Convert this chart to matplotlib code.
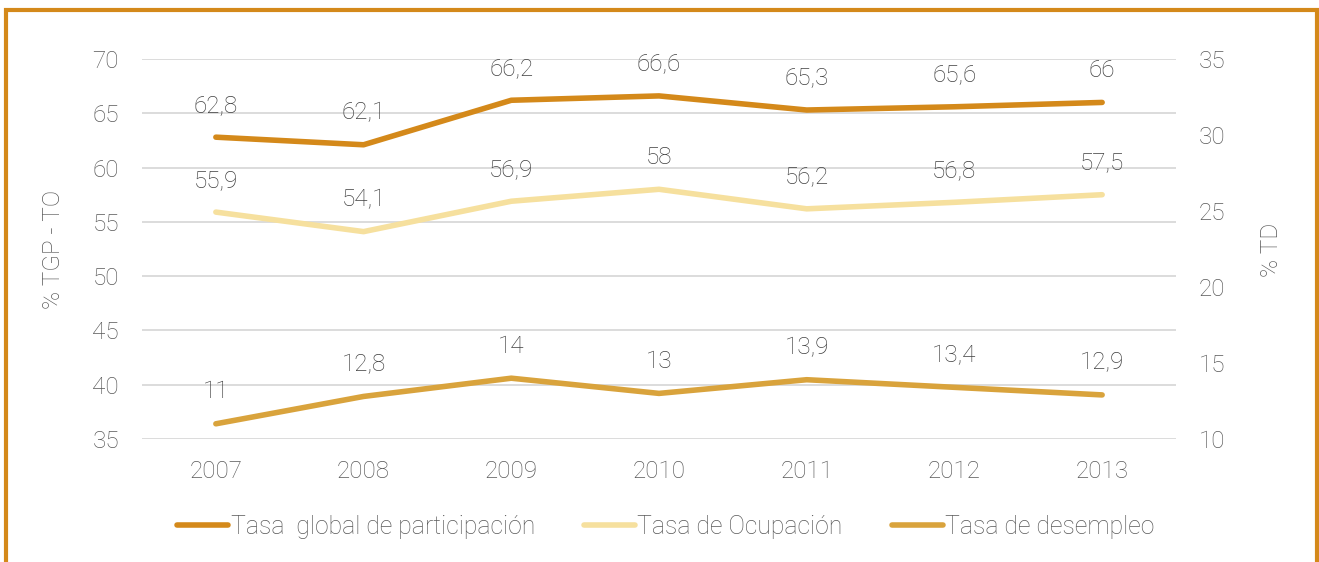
import matplotlib
matplotlib.use("Agg")
import matplotlib.pyplot as plt
from matplotlib.patches import Rectangle

plt.rcParams['font.family'] = ['Roboto', 'DejaVu Sans']
plt.rcParams['font.weight'] = 'light'

years = ['2007', '2008', '2009', '2010', '2011', '2012', '2013']
tgp = [62.8, 62.1, 66.2, 66.6, 65.3, 65.6, 66.0]
to = [55.9, 54.1, 56.9, 58.0, 56.2, 56.8, 57.5]
td = [11.0, 12.8, 14.0, 13.0, 13.9, 13.4, 12.9]

c_tgp = '#D4891A'
c_to = '#F6E09E'
c_td = '#D9A33C'
grey = '#595959'
dark = '#404040'
fs = 17.5

W, H = 1319, 562
fig = plt.figure(figsize=(W / 100, H / 100), dpi=100)
ax = fig.add_axes([142 / W, 1 - 439 / H, 1034 / W, 380 / H])
ax2 = ax.twinx()

x = list(range(len(years)))

def fmt(v):
    s = f'{v:.1f}'.replace('.', ',')
    return s[:-2] if s.endswith(',0') else s

l1, = ax.plot(x, tgp, color=c_tgp, lw=4, solid_capstyle='round', label='Tasa  global de participación', zorder=3)
l2, = ax.plot(x, to, color=c_to, lw=4, solid_capstyle='round', label='Tasa de Ocupación', zorder=3)
l3, = ax2.plot(x, td, color=c_td, lw=4, solid_capstyle='round', label='Tasa de desempleo', zorder=3)

for a, vals in ((ax, tgp), (ax, to), (ax2, td)):
    for xi, v in zip(x, vals):
        a.annotate(fmt(v), (xi, v), xytext=(0, 23), textcoords='offset points',
                   ha='center', va='center', fontsize=fs, color=dark)

ax.set_xlim(-0.5, len(years) - 0.5)
ax.set_ylim(35, 70)
ax2.set_ylim(10, 35)
ax.set_yticks(range(35, 71, 5))
ax2.set_yticks(range(10, 36, 5))
ax.set_xticks(x)
ax.set_xticklabels(years)

ax.grid(axis='y', color='#D9D9D9', lw=1.3)
ax.set_axisbelow(True)
for a in (ax, ax2):
    for s in a.spines.values():
        s.set_visible(False)
    a.tick_params(length=0, labelsize=fs, colors=grey)
ax.tick_params(axis='y', pad=16.5)
ax.tick_params(axis='x', pad=15)
ax2.tick_params(axis='y', pad=16.5)

# axis titles
fig.text(54 / W, 1 - 249 / H, '% TGP - TO', rotation=90, ha='center', va='center',
         fontsize=fs, color=grey)
fig.text(1271 / W, 1 - 250 / H, '% TD', rotation=90, ha='center', va='center',
         fontsize=fs, color=grey)

fig.legend(handles=[l1, l2, l3], loc='center', bbox_to_anchor=(666 / W, 1 - 527 / H),
           ncol=3, frameon=False, fontsize=17.8, labelcolor=grey,
           handlelength=2.05, handletextpad=0.1, columnspacing=2.0)

# golden frame around the figure
fig.patches.append(Rectangle((6 / W, -0.05), 1311 / W, 1 - 10 / H + 0.05,
                             transform=fig.transFigure, fill=False,
                             edgecolor=c_tgp, lw=3))

fig.savefig('out.png', dpi=100)
